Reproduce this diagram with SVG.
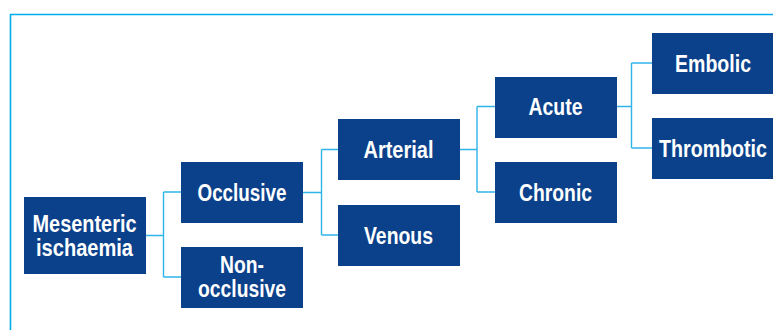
<svg xmlns="http://www.w3.org/2000/svg" width="773" height="330" viewBox="0 0 773 330">
<style>
.box{fill:#0b418b}
.t{fill:#fff;font-family:"Liberation Sans Narrow","Liberation Sans",Arial,sans-serif;font-weight:bold;font-size:23px;text-anchor:middle}
.c{fill:none;stroke:#2fb4e9;stroke-width:1.4}
</style>
<rect x="0" y="0" width="773" height="330" fill="#fff"/>
<path d="M10.5,330 V14.5 H773" fill="none" stroke="#00aeef" stroke-width="1.6"/>
<g id="connectors">
<path class="c" d="M146,235.5 H163.5 M163.5,192 V277 M163.5,192 H181 M163.5,277 H181"/>
<path class="c" d="M303,192.5 H321.5 M321.5,149.5 V235 M321.5,149.5 H338 M321.5,235 H338"/>
<path class="c" d="M460,149.5 H477 M477,106.5 V192 M477,106.5 H495 M477,192 H495"/>
<path class="c" d="M617,106.5 H631.5 M631.5,63 V148 M631.5,63 H652 M631.5,148 H652"/>
</g>
<g id="mesenteric"><rect class="box" x="24" y="197" width="122" height="77"/><text class="t" x="84.5" y="232" textLength="104" lengthAdjust="spacingAndGlyphs">Mesenteric</text><text class="t" x="84.5" y="256" textLength="97" lengthAdjust="spacingAndGlyphs">ischaemia</text></g>
<g id="occlusive"><rect class="box" x="181" y="162" width="122" height="61"/><text class="t" x="242" y="201" textLength="89" lengthAdjust="spacingAndGlyphs">Occlusive</text></g>
<g id="nonocclusive"><rect class="box" x="181" y="247" width="122" height="61"/><text class="t" x="242" y="273" textLength="44" lengthAdjust="spacingAndGlyphs">Non-</text><text class="t" x="242" y="297" textLength="88" lengthAdjust="spacingAndGlyphs">occlusive</text></g>
<g id="arterial"><rect class="box" x="338" y="119" width="122" height="61"/><text class="t" x="398.5" y="158" textLength="70" lengthAdjust="spacingAndGlyphs">Arterial</text></g>
<g id="venous"><rect class="box" x="338" y="205" width="122" height="61"/><text class="t" x="398.5" y="244" textLength="69" lengthAdjust="spacingAndGlyphs">Venous</text></g>
<g id="acute"><rect class="box" x="495" y="77" width="122" height="61"/><text class="t" x="555.5" y="115" textLength="54" lengthAdjust="spacingAndGlyphs">Acute</text></g>
<g id="chronic"><rect class="box" x="495" y="162" width="122" height="61"/><text class="t" x="555.5" y="201" textLength="73" lengthAdjust="spacingAndGlyphs">Chronic</text></g>
<g id="embolic"><rect class="box" x="652" y="33" width="122" height="61"/><text class="t" x="713" y="72" textLength="76" lengthAdjust="spacingAndGlyphs">Embolic</text></g>
<g id="thrombotic"><rect class="box" x="652" y="118" width="122" height="61"/><text class="t" x="713" y="157" textLength="108" lengthAdjust="spacingAndGlyphs">Thrombotic</text></g>
</svg>
